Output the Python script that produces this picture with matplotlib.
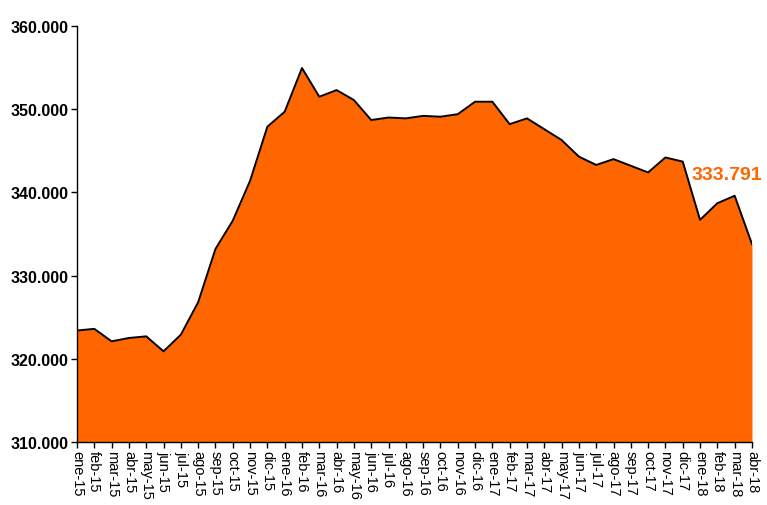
from matplotlib import pyplot as plt
import numpy as np

plt.rcParams.update({'font.family': ['Liberation Sans', 'DejaVu Sans']})

meses = ['ene', 'feb', 'mar', 'abr', 'may', 'jun', 'jul', 'ago', 'sep', 'oct', 'nov', 'dic']
labels = [m + '-' + str(a) for a in (15, 16, 17, 18) for m in meses][:40]

# afiliados (miles)
values = [323.4, 323.6, 322.1, 322.5, 322.7, 320.9, 322.9, 326.8, 333.2, 336.6,
          341.4, 347.9, 349.7, 354.95, 351.5, 352.3, 351.1, 348.7, 349.0, 348.9,
          349.2, 349.1, 349.4, 350.9, 350.9, 348.2, 348.9, 347.6, 346.3, 344.3,
          343.3, 344.0, 343.2, 342.4, 344.2, 343.7, 336.7, 338.7, 339.6, 333.791]
last_label = '333.791'

x = np.arange(len(values))
fig = plt.figure(figsize=(7.67, 5.06), dpi=100)
ax = fig.add_axes([0.1004, 0.1245, 0.8800, 0.8221])

ax.fill_between(x, 310, values, color='#FF6600', lw=0)
ax.plot(x, values, color='black', lw=1.4)

ax.set_xlim(0, len(values) - 1)
ax.set_ylim(310, 360)
ax.set_yticks(np.arange(310, 361, 10))
ax.set_yticklabels([f'{v:.3f}' for v in np.arange(310, 361, 10)], fontweight='bold', fontsize=11.5)
ax.set_xticks(x)
ax.set_xticklabels(labels, rotation=-90, fontsize=10.5)
ax.tick_params(axis='both', direction='out', length=4, width=1, colors='black', pad=2)
ax.spines['top'].set_visible(False)
ax.spines['right'].set_visible(False)
ax.spines['left'].set_linewidth(1)
ax.spines['bottom'].set_linewidth(1)

ax.text(35.5, 342.1, last_label, color='#FF6600', fontsize=14, fontweight='bold',
        ha='left', va='center')

plt.savefig('out.png', dpi=100)
